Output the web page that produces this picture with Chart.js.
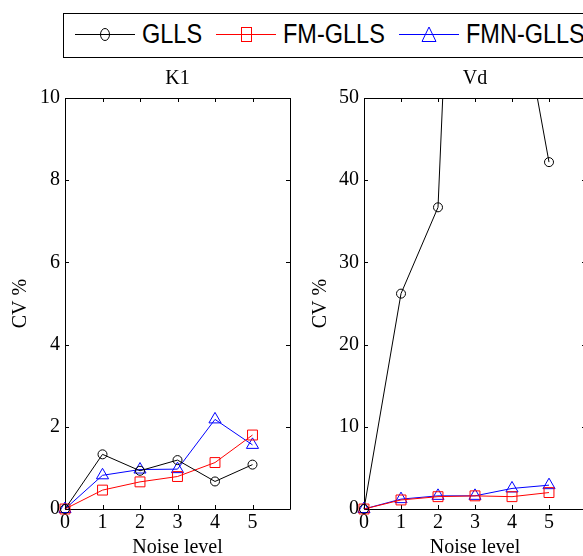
<!DOCTYPE html>
<html>
<head>
<meta charset="utf-8">
<script src="https://cdn.jsdelivr.net/npm/chart.js@4"></script>
<style>
    html, body { margin: 0; padding: 0; background: #fff; }
    body { width: 583px; height: 556px; overflow: hidden; position: relative; }
    canvas { position: absolute; top: 0; }
    #legend { position: absolute; left: 63px; top: 13px; width: 560px; height: 43px; border: 1px solid #000; z-index: 2; background: #fff; }
    #legend svg, #legend span { position: absolute; }
    #legend span { font-family: "Liberation Sans", Arial, sans-serif; font-size: 27px; line-height: 27px; top: 7px; transform: scaleX(0.87); transform-origin: 0 0; white-space: nowrap; color: #000; }
</style>
</head>
<body>
<div id="legend"></div>
<canvas id="k1Chart" width="300" height="556" style="left:0px"></canvas>
<canvas id="vdChart" width="300" height="556" style="left:300px"></canvas>
<script>
var noiseLevels = [0, 1, 2, 3, 4, 5];
var seriesNames = ['GLLS', 'FM-GLLS', 'FMN-GLLS'];

var k1Glls = [0, 1.33, 0.93, 1.19, 0.67, 1.08];
var k1Fm = [0, 0.46, 0.66, 0.79, 1.13, 1.80];
var k1Fmn = [0, 0.82, 0.96, 0.97, 2.18, 1.56];

var vdGlls = [0, 26.2, 36.7, 141, 67, 42.2];
var vdFm = [0, 1.1, 1.5, 1.6, 1.5, 2.0];
var vdFmn = [0, 1.2, 1.6, 1.6, 2.5, 2.9];

var k1Ticks = [0, 2, 4, 6, 8, 10];
var vdTicks = [0, 10, 20, 30, 40, 50];

var colors = ['#000000', '#ff0000', '#0000ff'];
var markers = ['circle', 'rect', 'triangle'];
var markerSizes = [4.5, 7, 7];
var serif = '"Liberation Serif", "Times New Roman", serif';

// box round the axes with matlab style inward ticks
var framePlugin = {
    id: 'frame',
    beforeDatasetsDraw: function(chart) {
        var ctx = chart.ctx;
        var a = chart.chartArea;
        var xs = chart.scales.x, ys = chart.scales.y;
        var len = 4;
        ctx.save();
        ctx.strokeStyle = '#000';
        ctx.lineWidth = 1;
        ctx.beginPath();
        ctx.rect(Math.round(a.left) + 0.5, Math.round(a.top) + 0.5, Math.round(a.right - a.left), Math.round(a.bottom - a.top));
        xs.ticks.forEach(function(t) {
            var px = Math.round(xs.getPixelForValue(t.value)) + 0.5;
            ctx.moveTo(px, a.bottom); ctx.lineTo(px, a.bottom - len);
            ctx.moveTo(px, a.top); ctx.lineTo(px, a.top + len);
        });
        ys.ticks.forEach(function(t) {
            var py = Math.round(ys.getPixelForValue(t.value)) + 0.5;
            ctx.moveTo(a.left, py); ctx.lineTo(a.left + len, py);
            ctx.moveTo(a.right, py); ctx.lineTo(a.right - len, py);
        });
        ctx.stroke();
        ctx.restore();
    }
};

function makeDataset(i, values) {
    return {
        label: seriesNames[i],
        data: noiseLevels.map(function(n, j) { return { x: n, y: values[j] }; }),
        borderColor: colors[i],
        backgroundColor: 'rgba(0,0,0,0)',
        borderWidth: 1,
        pointStyle: markers[i],
        pointRadius: markerSizes[i],
        pointHoverRadius: markerSizes[i],
        pointBorderColor: colors[i],
        pointBackgroundColor: 'rgba(0,0,0,0)',
        pointBorderWidth: 1,
        tension: 0,
        clip: { left: 10, right: 10, top: 0, bottom: 10 }
    };
}

function makeChart(id, title, series, yTicks, yWidth, padRight) {
    var ctx = document.getElementById(id).getContext('2d');
    return new Chart(ctx, {
        type: 'line',
        data: {
            datasets: series.map(function(v, i) { return makeDataset(i, v); })
        },
        options: {
            responsive: false,
            animation: false,
            devicePixelRatio: 1,
            layout: { padding: { left: 0, right: padRight, top: 0, bottom: 0 } },
            plugins: {
                legend: { display: false },
                tooltip: { enabled: false },
                title: {
                    display: true,
                    text: title,
                    fullSize: false,
                    color: '#000',
                    font: { family: serif, size: 20, weight: 'normal', lineHeight: 1 },
                    padding: { top: 69, bottom: 9 }
                }
            },
            scales: {
                x: {
                    type: 'linear',
                    min: 0,
                    max: 6,
                    afterFit: function(s) { s.height = 47; },
                    afterBuildTicks: function(s) {
                        s.ticks = [0, 1, 2, 3, 4, 5, 6].map(function(v) { return { value: v }; });
                    },
                    ticks: {
                        color: '#000',
                        padding: 2,
                        maxRotation: 0,
                        autoSkip: false,
                        font: { family: serif, size: 20 },
                        callback: function(v) { return v > 5 ? '' : String(v); }
                    },
                    grid: { display: false, drawTicks: false },
                    border: { display: false },
                    title: {
                        display: true,
                        text: 'Noise level',
                        color: '#000',
                        font: { family: serif, size: 20, lineHeight: 0.8 },
                        padding: { top: 0, bottom: 0 }
                    }
                },
                y: {
                    min: yTicks[0],
                    max: yTicks[yTicks.length - 1],
                    afterFit: function(s) { s.width = yWidth; },
                    afterBuildTicks: function(s) {
                        s.ticks = yTicks.map(function(v) { return { value: v }; });
                    },
                    ticks: {
                        color: '#000',
                        padding: 5,
                        font: { family: serif, size: 20 }
                    },
                    grid: { display: false, drawTicks: false },
                    border: { display: false },
                    title: {
                        display: true,
                        text: 'CV %',
                        color: '#000',
                        font: { family: serif, size: 20, lineHeight: 1 },
                        padding: { top: 11, bottom: 0 }
                    }
                }
            }
        },
        plugins: [framePlugin]
    });
}

makeChart('k1Chart', 'K1', [k1Glls, k1Fm, k1Fmn], k1Ticks, 65, 10);
makeChart('vdChart', 'Vd', [vdGlls, vdFm, vdFmn], vdTicks, 64, 14);

// legend drawn as html so it can run past the right edge like the original
function markerSvg(i) {
    var c = colors[i];
    var line = '<line x1="0" y1="20.5" x2="60" y2="20.5" stroke="' + c + '" stroke-width="1"/>';
    var m;
    if (markers[i] === 'circle') {
        m = '<ellipse cx="30" cy="20.5" rx="4.5" ry="6" fill="none" stroke="' + c + '"/>';
    } else if (markers[i] === 'rect') {
        m = '<rect x="25.5" y="13.5" width="10" height="14" fill="none" stroke="' + c + '"/>';
    } else {
        m = '<polygon points="30,13 37,27.5 23,27.5" fill="none" stroke="' + c + '"/>';
    }
    return '<svg width="60" height="40" style="top:0px;left:0px">' + line + m + '</svg>';
}

var legend = document.getElementById('legend');
var x = 11;
seriesNames.forEach(function(name, i) {
    var holder = document.createElement('div');
    holder.innerHTML = markerSvg(i);
    var svg = holder.firstChild;
    svg.style.left = x + 'px';
    legend.appendChild(svg);
    x += 67;
    var span = document.createElement('span');
    span.textContent = name;
    span.style.left = x + 'px';
    legend.appendChild(span);
    x += span.getBoundingClientRect().width + 14;
});
</script>
</body>
</html>
